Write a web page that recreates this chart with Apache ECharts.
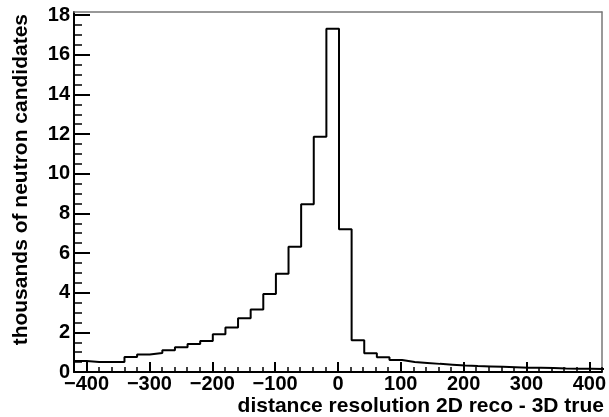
<!DOCTYPE html>
<html>
<head>
<meta charset="utf-8">
<script src="https://cdn.jsdelivr.net/npm/echarts@6/dist/echarts.min.js"></script>
<style>
  html, body { margin: 0; padding: 0; background: #fff; }
  #chart { width: 609px; height: 417px; }
</style>
</head>
<body>
<div id="chart"></div>
<script>
// Histogram bins: lower edge of each 20-unit bin (distance, 2D reco - 3D true)
const binLowEdges = [
  -420, -400, -380, -360, -340, -320, -300, -280, -260, -240, -220, -200, -180, -160,
  -140, -120, -100, -80, -60, -40, -20, 0, 20, 40, 60, 80, 100, 120,
  140, 160, 180, 200, 220, 240, 260, 280, 300, 320, 340, 360, 380, 400
];
const binUpperEnd = 420;

// Counts per bin, in thousands of neutron candidates
const counts = [
  0.55, 0.50, 0.50, 0.50, 0.76, 0.88, 0.96, 1.10, 1.25, 1.41, 1.57, 1.91, 2.24, 2.71,
  3.15, 3.94, 4.95, 6.32, 8.46, 11.87, 17.31, 7.20, 1.60, 0.94, 0.74, 0.60, 0.50, 0.46,
  0.41, 0.37, 0.33, 0.30, 0.28, 0.26, 0.24, 0.22, 0.21, 0.20, 0.18, 0.17, 0.16, 0.15
];

// Axis tick labels
const xMajorTicks = [-400, -300, -200, -100, 0, 100, 200, 300, 400];
const yMajorTicks = [0, 2, 4, 6, 8, 10, 12, 14, 16, 18];

const xTitle = 'distance resolution 2D reco - 3D true';
const yTitle = 'thousands of neutron candidates';

// Step outline: one point per lower edge, plus the closing upper edge
const stepData = binLowEdges.map((x, i) => [x, counts[i]]);
stepData.push([binUpperEnd, counts[counts.length - 1]]);

const FONT = 'Liberation Sans, Arial, Helvetica, sans-serif';
const X_MIN = -420, X_MAX = 420, Y_MAX = 18.16;
const PLOT = { left: 74, right: 5, top: 12, bottom: 45 };

// plain grey line used for the top and right sides of the frame
const frameAxis = (extra) => Object.assign({
  type: 'value',
  gridIndex: 1,
  min: 0, max: 1,
  axisLine: { show: true, onZero: false, lineStyle: { color: '#777', width: 1.5 } },
  axisTick: { show: false },
  axisLabel: { show: false },
  splitLine: { show: false }
}, extra);

const chart = echarts.init(document.getElementById('chart'));
chart.setOption({
  animation: false,
  backgroundColor: '#ffffff',
  // grid 0 holds the histogram, grid 1 (same box) holds the visible axes and frame
  grid: [Object.assign({}, PLOT), Object.assign({}, PLOT)],
  xAxis: [
    { type: 'value', gridIndex: 0, min: X_MIN, max: X_MAX, show: false },
    {
      type: 'value',
      gridIndex: 1,
      min: X_MIN, max: X_MAX,
      position: 'bottom',
      axisLine: { show: true, lineStyle: { color: '#000', width: 2 } },
      axisTick: { show: true, inside: true, length: 10, customValues: xMajorTicks,
        lineStyle: { color: '#000', width: 2 } },
      splitLine: { show: false },
      axisLabel: {
        customValues: xMajorTicks,
        color: '#000', fontFamily: FONT, fontWeight: 'bold', fontSize: 20, margin: 2,
        formatter: v => String(v).replace('-', '\u2212')
      }
    },
    {
      // minor ticks every 20 units
      type: 'value',
      gridIndex: 1,
      min: X_MIN, max: X_MAX,
      interval: 20,
      position: 'bottom',
      axisLine: { show: false },
      axisTick: { show: true, inside: true, length: 5, lineStyle: { color: '#000', width: 1.5 } },
      splitLine: { show: false },
      axisLabel: { show: false }
    },
    frameAxis({ position: 'top' })
  ],
  yAxis: [
    { type: 'value', gridIndex: 0, min: 0, max: Y_MAX, show: false },
    {
      type: 'value',
      gridIndex: 1,
      min: 0, max: Y_MAX,
      interval: 2,
      position: 'left',
      axisLine: { show: true, onZero: false, lineStyle: { color: '#000', width: 2 } },
      axisTick: { show: true, inside: true, length: 16, customValues: yMajorTicks,
        lineStyle: { color: '#000', width: 2 } },
      minorTick: { show: true, splitNumber: 4, length: 8, lineStyle: { color: '#000', width: 1.5 } },
      splitLine: { show: false },
      axisLabel: {
        customValues: yMajorTicks,
        color: '#000', fontFamily: FONT, fontWeight: 'bold', fontSize: 20, margin: 4
      }
    },
    frameAxis({ min: 0, max: Y_MAX, position: 'right' })
  ],
  series: [{
    type: 'line',
    step: 'end',
    data: stepData,
    xAxisIndex: 0,
    yAxisIndex: 0,
    symbol: 'none',
    lineStyle: { color: '#000', width: 2 },
    clip: true
  }],
  graphic: [
    {
      type: 'text',
      right: 5, top: 396,
      style: { text: xTitle, fill: '#000', font: 'bold 21px ' + FONT }
    },
    {
      type: 'text',
      x: 21, y: 14,
      rotation: Math.PI / 2,
      style: {
        text: yTitle, fill: '#000', font: 'bold 21px ' + FONT,
        align: 'right', verticalAlign: 'middle'
      }
    }
  ]
});
</script>
</body>
</html>
